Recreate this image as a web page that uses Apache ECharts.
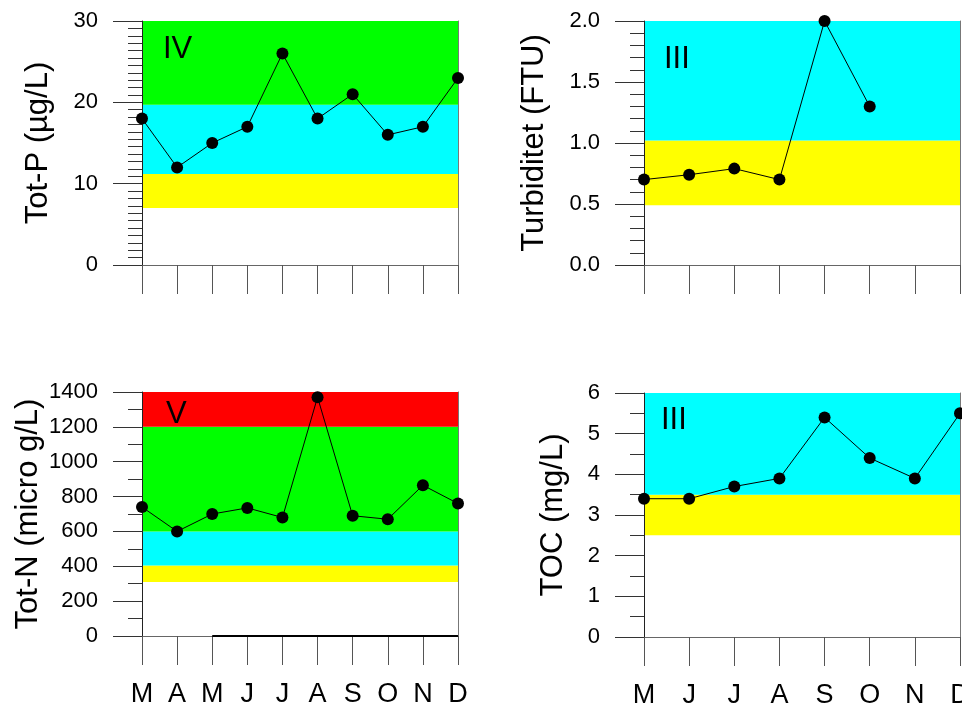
<!DOCTYPE html>
<html>
<head>
<meta charset="utf-8">
<script src="https://cdn.jsdelivr.net/npm/echarts@6/dist/echarts.min.js"></script>
<style>
html,body{margin:0;padding:0;background:#fff;}
#c{width:962px;height:707px;}
</style>
</head>
<body>
<div id="c"></div>
<script>
// ---- data ----
const monthsMarDec = ['M','A','M','J','J','A','S','O','N','D'];
const monthsMayDec = ['M','J','J','A','S','O','N','D'];

const totP = [18, 12, 15, 17, 26, 18, 21, 16, 17, 23];
const turbiditet = [0.7, 0.74, 0.79, 0.7, 2.0, 1.3, null, null];
const totN = [740, 600, 700, 735, 680, 1370, 690, 670, 865, 760];
const totNBase = [null, null, 0, 0, 0, 0, 0, 0, 0, 0];
const toc = [3.4, 3.4, 3.7, 3.9, 5.4, 4.4, 3.9, 5.5];

// class band limits (lower..upper), bands coloured in order yellow, cyan, green, red
const totPLimits = [7, 11.2, 19.7, 30];
const turbLimits = [0.49, 1.02, 2.0];
const totNLimits = [310, 405, 600, 1200, 1400];
const tocLimits = [2.5, 3.5, 6];

const classLabels = ['IV', 'III', 'V', 'III'];
const axisTitles = ['Tot-P (µg/L)', 'Turbiditet (FTU)', 'Tot-N (micro g/L)', 'TOC (mg/L)'];

// ---- styling / layout ----
const bandColors = ['#FFFF00', '#00FFFF', '#00FF00', '#FF0000'];
const FONT = 'Liberation Sans, Arial, sans-serif';

const panels = [
  {grid:{left:142, top:21, width:316, height:244}, cats:monthsMarDec, data:totP, limits:totPLimits,
   min:0, max:30, interval:10, minorSplit:11, showX:false, nameGap:88, fmt:v=>String(v),
   label:{x:163, y:47}},
  {grid:{left:644, top:21, width:316, height:244}, cats:monthsMayDec, data:turbiditet, limits:turbLimits,
   min:0, max:2, interval:0.5, minorSplit:5, showX:false, nameGap:94, fmt:v=>v.toFixed(1),
   label:{x:664, y:57}},
  {grid:{left:142, top:392, width:316, height:244}, cats:monthsMarDec, data:totN, limits:totNLimits,
   min:0, max:1400, interval:200, minorSplit:2, showX:true, nameGap:98, fmt:v=>String(v),
   label:{x:166, y:412}, extra:totNBase},
  {grid:{left:644, top:393, width:316, height:244}, cats:monthsMayDec, data:toc, limits:tocLimits,
   min:0, max:6, interval:1, minorSplit:2, showX:true, nameGap:75, fmt:v=>String(v),
   label:{x:661, y:418}}
];

const option = {
  animation:false,
  backgroundColor:'#ffffff',
  textStyle:{fontFamily:FONT},
  grid:[], xAxis:[], yAxis:[], series:[], graphic:[]
};

panels.forEach((p, i) => {
  option.grid.push(Object.assign({containLabel:false, outerBoundsMode:'none', show:false}, p.grid));
  // bottom category axis
  option.xAxis.push({
    type:'category', gridIndex:i, data:p.cats, boundaryGap:false, position:'bottom', z:3,
    axisLine:{show:true, lineStyle:{color:'#111', width:1}},
    axisTick:{show:true, length:29, interval:0, lineStyle:{color:'#555', width:1}},
    axisLabel:{show:p.showX, interval:0, margin:45, fontSize:27, color:'#000', fontFamily:FONT,
               hideOverlap:false},
    splitLine:{show:false}
  });
  // top border
  option.xAxis.push({
    type:'category', gridIndex:i, data:p.cats, boundaryGap:false, position:'top', z:3,
    axisLine:{show:true, lineStyle:{color:'#666', width:1}},
    axisTick:{show:false}, axisLabel:{show:false}, splitLine:{show:false}
  });
  // left value axis
  option.yAxis.push({
    type:'value', gridIndex:i, min:p.min, max:p.max, interval:p.interval, position:'left', z:3,
    name:axisTitles[i], nameLocation:'middle', nameGap:p.nameGap,
    nameTextStyle:{fontSize:31, color:'#000', fontFamily:FONT},
    axisLine:{show:true, lineStyle:{color:'#222', width:1}},
    axisTick:{show:true, length:29, lineStyle:{color:'#333', width:1}},
    minorTick:{show:true, splitNumber:p.minorSplit, length:14, lineStyle:{color:'#333', width:1}},
    axisLabel:{margin:44, fontSize:22, color:'#000', fontFamily:FONT, formatter:p.fmt},
    splitLine:{show:false}, minorSplitLine:{show:false}
  });
  // right border
  option.yAxis.push({
    type:'value', gridIndex:i, min:p.min, max:p.max, interval:p.interval, position:'right', z:3,
    axisLine:{show:true, lineStyle:{color:'#777', width:1}},
    axisTick:{show:false}, axisLabel:{show:false}, splitLine:{show:false}
  });
  const xi = i*2, yi = i*2;
  // class bands
  const areas = [];
  for (let k = 0; k < p.limits.length - 1; k++) {
    areas.push([{yAxis:p.limits[k], itemStyle:{color:bandColors[k], opacity:1}}, {yAxis:p.limits[k+1]}]);
  }
  option.series.push({
    type:'line', xAxisIndex:xi, yAxisIndex:yi, z:1, silent:true,
    data:p.cats.map(()=>null), showSymbol:false, lineStyle:{width:0},
    markArea:{silent:true, data:areas}
  });
  if (p.extra) {
    option.series.push({
      type:'line', xAxisIndex:xi, yAxisIndex:yi, z:4, data:p.extra, showSymbol:false,
      lineStyle:{color:'#000', width:2}
    });
  }
  option.series.push({
    type:'line', xAxisIndex:xi, yAxisIndex:yi, z:5, data:p.data,
    symbol:'circle', symbolSize:12, showSymbol:true, connectNulls:false,
    itemStyle:{color:'#000'}, lineStyle:{color:'#000', width:1}
  });
  option.graphic.push({
    type:'text', left:p.label.x, top:p.label.y - 13, z:10,
    style:{text:classLabels[i], font:'31px ' + FONT, fill:'#000'}
  });
});

const chart = echarts.init(document.getElementById('c'), null, {renderer:'canvas'});
chart.setOption(option);
</script>
</body>
</html>
